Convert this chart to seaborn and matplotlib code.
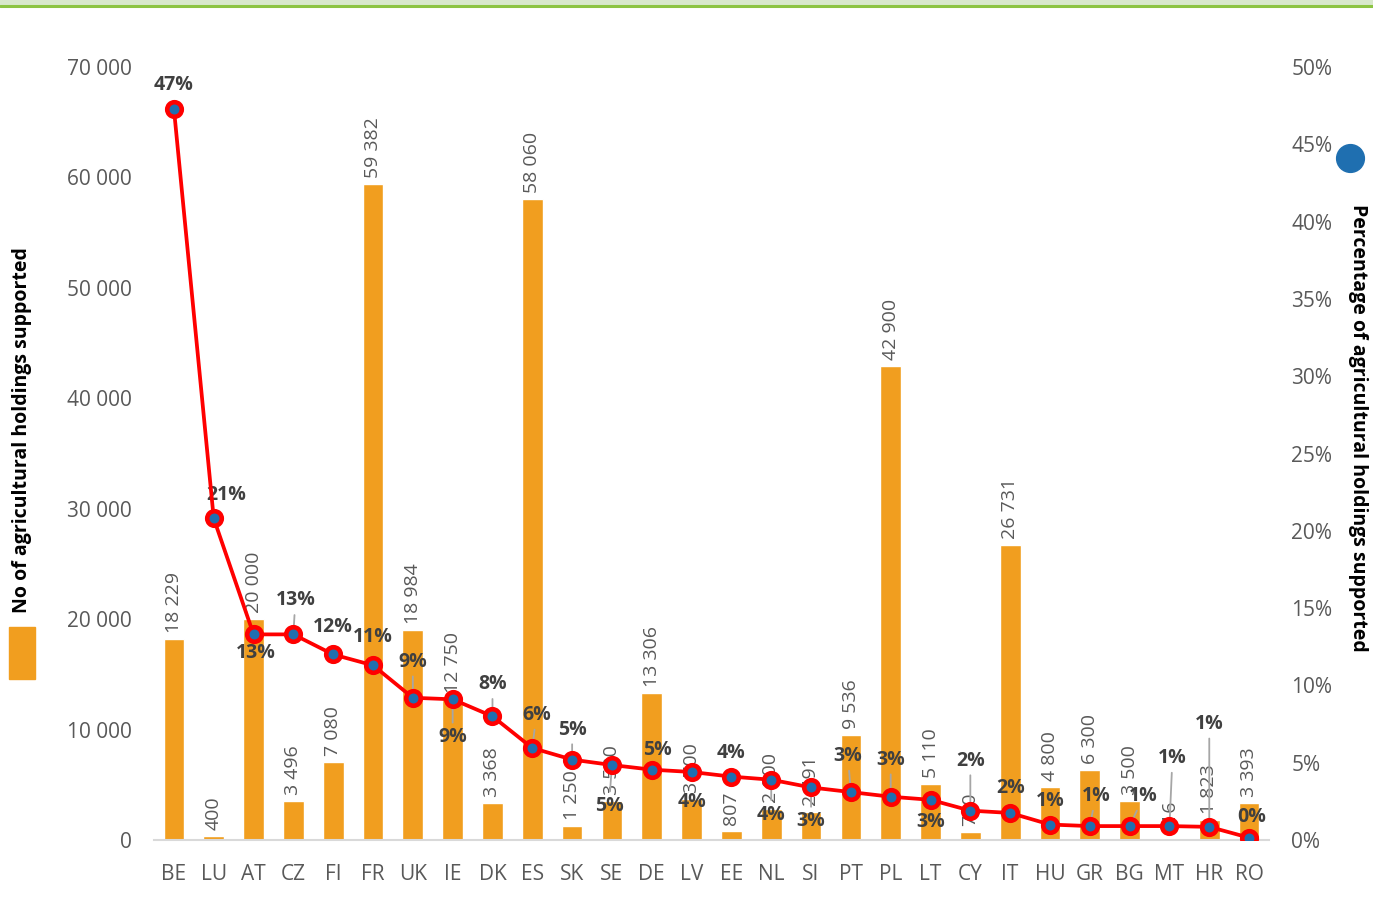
import numpy as np
import pandas as pd
import matplotlib
matplotlib.use("Agg")
import matplotlib.pyplot as plt
import seaborn as sns
from matplotlib.patches import Rectangle
from matplotlib.lines import Line2D

countries = ["BE", "LU", "AT", "CZ", "FI", "FR", "UK", "IE", "DK", "ES", "SK", "SE", "DE", "LV",
             "EE", "NL", "SI", "PT", "PL", "LT", "CY", "IT", "HU", "GR", "BG", "MT", "HR", "RO"]
holdings = [18229, 400, 20000, 3496, 7080, 59382, 18984, 12750, 3368, 58060, 1250, 3500, 13306, 3700,
            807, 2800, 2491, 9536, 42900, 5110, 730, 26731, 4800, 6300, 3500, 116, 1823, 3393]
share_pct = [47.3, 20.8, 13.3, 13.3, 12.0, 11.3, 9.2, 9.1, 8.0, 5.95, 5.2, 4.85, 4.55, 4.4,
             4.1, 3.9, 3.4, 3.1, 2.8, 2.6, 1.9, 1.75, 1.0, 0.9, 0.9, 0.9, 0.85, 0.15]

df = pd.DataFrame({"country": countries, "holdings": holdings, "share": np.array(share_pct) / 100})

# label placement for the % labels (pixels from the point) and whether a leader line is drawn
pct_offsets = [(0, 24), (12, 23), (2, -19), (2, 34), (0, 27), (0, 28), (0, 36), (0, -38), (0, 32),
               (4, 33), (0, 30), (-3, -41), (6, 20), (0, -30), (0, 24), (0, -35), (0, -34), (-3, 36),
               (0, 37), (0, -22), (0, 50), (0, 25), (0, 24), (6, 30), (14, 30), (3, 68), (0, 103), (3, 21)]
leaders = [False, False, False, True, False, False, True, True, True,
           True, True, True, False, False, False, True, True, True,
           True, False, True, False, False, True, True, True, True, False]

ORANGE = "#F19E1F"
BLUE = "#1F6FB0"
RED = "#FF0000"
GREY = "#595959"

sns.set_style("white")
plt.rcParams["font.family"] = ["Open Sans", "DejaVu Sans"]

fig = plt.figure(figsize=(13.73, 9.16), dpi=100)
ax = fig.add_axes([154 / 1373, 1 - 840 / 916, (1269 - 154) / 1373, (840 - 67) / 916])

sns.barplot(data=df, x="country", y="holdings", color=ORANGE, saturation=1, width=0.52, ax=ax)
ax.set_ylim(0, 70000)
ax.set_xlim(-0.5, len(countries) - 0.5)
ax.set_yticks(np.arange(0, 70001, 10000))
ax.set_yticklabels([f"{v:,}".replace(",", " ") for v in range(0, 70001, 10000)])
ax.set_xlabel("")
ax.set_ylabel("")
ax.tick_params(axis="both", length=0, labelsize=15, labelcolor=GREY)
ax.tick_params(axis="y", pad=16)
ax.tick_params(axis="x", pad=17)
for s in ["top", "left", "right"]:
    ax.spines[s].set_visible(False)
ax.spines["bottom"].set_color("#D9D9D9")
ax.spines["bottom"].set_linewidth(1.5)

for i, v in enumerate(holdings):
    ax.annotate(f"{v:,}".replace(",", " "), (i, v), xytext=(0, 6), textcoords="offset pixels",
                rotation=90, ha="center", va="bottom", fontsize=14, color=GREY)

ax2 = ax.twinx()
ax2.plot(np.arange(len(countries)), df["share"], color=RED, lw=2.7, marker="o", ms=10.5,
         mfc=BLUE, mec=RED, mew=3.3, zorder=3)
ax2.set_ylim(0, 0.5)
ax2.set_yticks(np.arange(0, 0.51, 0.05))
ax2.set_yticklabels([f"{int(round(t * 100))}%" for t in np.arange(0, 0.51, 0.05)])
ax2.tick_params(axis="y", length=0, labelsize=15, labelcolor=GREY, pad=16)
for s in ax2.spines.values():
    s.set_visible(False)
ax2.grid(False)

for i, p in enumerate(share_pct):
    dx, dy = pct_offsets[i]
    arrow = None
    if leaders[i]:
        arrow = dict(arrowstyle="-", color="#A6A6A6", lw=1.3, shrinkA=1, shrinkB=0)
    ax2.annotate(f"{p:.0f}%", (i, p / 100), xytext=(dx, dy), textcoords="offset pixels",
                 ha="center", va="center", fontsize=14, fontweight="bold", color="#404040",
                 arrowprops=arrow, zorder=2)

# axis titles with their legend keys, the way the original lays them out
fig.text(22 / 1373, 1 - 430 / 916, "No of agricultural holdings supported", rotation=90,
         ha="center", va="center", fontsize=14, fontweight="bold", color="black")
fig.patches.append(Rectangle((9 / 1373, 1 - 679 / 916), 26 / 1373, 52 / 916,
                             transform=fig.transFigure, color=ORANGE, figure=fig))
fig.text(1358 / 1373, 1 - 428 / 916, "Percentage of agricultural holdings supported", rotation=270,
         ha="center", va="center", fontsize=14, fontweight="bold", color="black")
fig.add_artist(Line2D([1350 / 1373], [1 - 158 / 916], transform=fig.transFigure,
                      marker="o", ms=20, color=BLUE, lw=0))

# green band at the top
fig.patches.append(Rectangle((0, 1 - 5 / 916), 1, 5 / 916, transform=fig.transFigure,
                             color="#D8E8CC", figure=fig))
fig.add_artist(Line2D([0, 1], [1 - 6 / 916, 1 - 6 / 916], transform=fig.transFigure,
                      color="#8CC443", lw=2.2))

fig.savefig("out.png", dpi=100)
